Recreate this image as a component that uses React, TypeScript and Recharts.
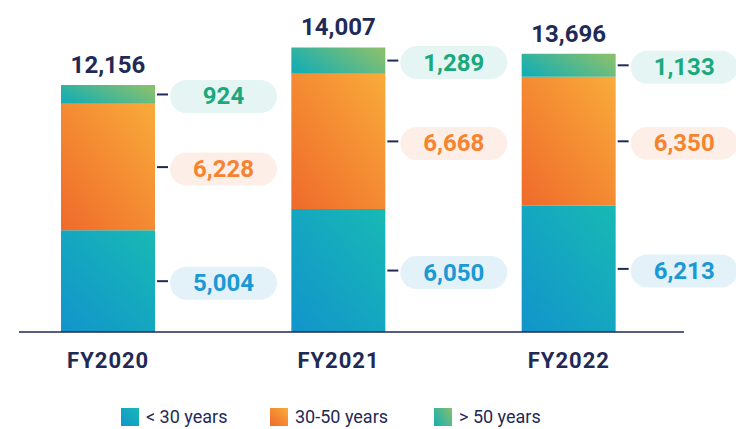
import React from 'react'
import { BarChart, Bar, XAxis, YAxis, Legend, LabelList } from 'recharts'

// values
const categories = ['FY2020', 'FY2021', 'FY2022']
const under30 = [5004, 6050, 6213]
const from30to50 = [6228, 6668, 6350]
const over50 = [924, 1289, 1133]
const totals = [12156, 14007, 13696]

const seriesNames = ['< 30 years', '30-50 years', '> 50 years']

const data = categories.map((name, i) => ({
  name,
  under30: under30[i],
  mid: from30to50[i],
  over50: over50[i],
  total: totals[i],
}))

const NAVY = '#1f2a56'
const FONT = 'Roboto, "Noto Sans", sans-serif'

const fmt = (v: any) => Number(v).toLocaleString('en-US')

function makePill(bg: string, color: string) {
  return (props: any) => {
    const { x, y, width, height, value } = props
    const cy = Number(y) + Number(height) / 2
    const bx = Number(x) + Number(width)
    return (
      <g>
        <line x1={bx + 2} x2={bx + 13} y1={cy} y2={cy} stroke={NAVY} strokeWidth={2} />
        <rect x={bx + 15} y={cy + 2 - 16.5} width={107} height={33} rx={16.5} fill={bg} />
        <text
          x={bx + 15 + 53.5}
          y={cy + 2}
          textAnchor="middle"
          dominantBaseline="central"
          fill={color}
          fontFamily={FONT}
          fontWeight={700}
          fontSize={24}
        >
          {fmt(value)}
        </text>
      </g>
    )
  }
}

function TotalLabel(props: any) {
  const { x, y, width, value } = props
  return (
    <text
      x={Number(x) + Number(width) / 2}
      y={Number(y) - 12}
      textAnchor="middle"
      fill={NAVY}
      fontFamily={FONT}
      fontWeight={700}
      fontSize={24}
    >
      {fmt(value)}
    </text>
  )
}

function CategoryTick(props: any) {
  const { x, y, payload } = props
  return (
    <text
      x={x}
      y={y + 36}
      textAnchor="middle"
      fill={NAVY}
      fontFamily={FONT}
      fontWeight={700}
      fontSize={22}
      letterSpacing={1}
    >
      {payload.value}
    </text>
  )
}

const legendGradients = [
  'linear-gradient(45deg, #1294cc, #17b9b4)',
  'linear-gradient(45deg, #ef6a2b, #f9ab3a)',
  'linear-gradient(60deg, #17aeb2, #85c06f)',
]
const legendLefts = [121, 270, 434]

function LegendContent() {
  return (
    <div style={{ position: 'relative', width: 736, height: 40, fontFamily: FONT }}>
      {seriesNames.map((n, i) => (
        <div
          key={n}
          style={{ position: 'absolute', left: legendLefts[i], top: 19, display: 'flex', alignItems: 'center' }}
        >
          <span style={{ width: 18, height: 18, background: legendGradients[i], display: 'inline-block' }} />
          <span style={{ marginLeft: 7, fontSize: 18, color: NAVY, lineHeight: '18px' }}>{n}</span>
        </div>
      ))}
    </div>
  )
}

export default function App() {
  return (
    <div style={{ position: 'absolute', left: 0, top: 0, width: 736, height: 429, background: '#fff' }}>
      <BarChart
        width={736}
        height={429}
        data={data}
        margin={{ top: 7, right: 52, bottom: 0, left: 19 }}
        barSize={94}
      >
        <defs>
          <linearGradient id="gBlue" x1="0" y1="1" x2="1" y2="0">
            <stop offset="0%" stopColor="#1294cc" />
            <stop offset="100%" stopColor="#17b9b4" />
          </linearGradient>
          <linearGradient id="gOrange" x1="0" y1="1" x2="1" y2="0">
            <stop offset="0%" stopColor="#ef6a2b" />
            <stop offset="100%" stopColor="#f9ab3a" />
          </linearGradient>
          <linearGradient id="gGreen" x1="0" y1="0.7" x2="1" y2="0.3">
            <stop offset="0%" stopColor="#17aeb2" />
            <stop offset="100%" stopColor="#85c06f" />
          </linearGradient>
        </defs>
        <XAxis
          dataKey="name"
          height={57}
          padding={{ left: -26, right: 0 }}
          tickLine={false}
          tickSize={0}
          tickMargin={0}
          axisLine={{ stroke: NAVY, strokeWidth: 1.5 }}
          tick={<CategoryTick />}
        />
        <YAxis hide domain={[0, 16000]} />
        <Legend verticalAlign="bottom" height={40} wrapperStyle={{ left: 0, width: 736 }} content={<LegendContent />} />
        <Bar dataKey="under30" stackId="a" fill="url(#gBlue)" isAnimationActive={false}>
          <LabelList dataKey="under30" content={makePill('#e3f1f8', '#1a99d4')} />
        </Bar>
        <Bar dataKey="mid" stackId="a" fill="url(#gOrange)" isAnimationActive={false}>
          <LabelList dataKey="mid" content={makePill('#fdefe7', '#f5832f')} />
        </Bar>
        <Bar dataKey="over50" stackId="a" fill="url(#gGreen)" isAnimationActive={false}>
          <LabelList dataKey="over50" content={makePill('#e4f5f4', '#1aa97c')} />
          <LabelList dataKey="total" content={<TotalLabel />} />
        </Bar>
      </BarChart>
    </div>
  )
}
